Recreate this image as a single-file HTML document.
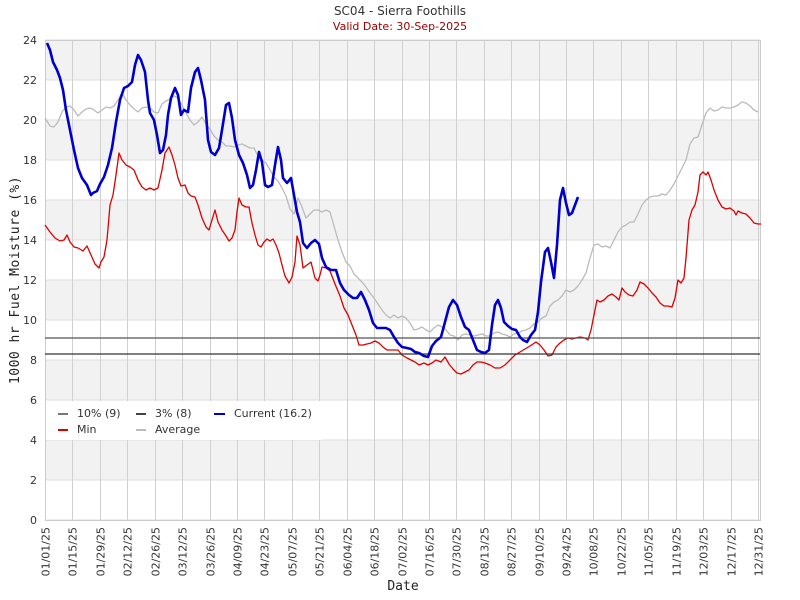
<!DOCTYPE html>
<html><head><meta charset="utf-8"><style>
html,body{margin:0;padding:0;background:#fff;}
svg{display:block;font-family:"DejaVu Sans","Liberation Sans",sans-serif;}
</style></head><body>
<svg id="c" width="800" height="600" viewBox="0 0 800 600" xmlns="http://www.w3.org/2000/svg">
<rect width="800" height="600" fill="#fff"/>
<g id="bands"></g>
<g id="grid"></g>
<g id="lines" fill="none" stroke-linejoin="round"></g>
<text x="400" y="15" text-anchor="middle" font-size="12" fill="#333">SC04 - Sierra Foothills</text>
<text x="400" y="30" text-anchor="middle" font-size="11" fill="#a00000">Valid Date: 30-Sep-2025</text>
<text transform="translate(19,280) rotate(-90)" text-anchor="middle" font-size="13" fill="#222" font-family="'DejaVu Sans Mono','Liberation Mono',monospace" letter-spacing="0.5">1000 hr Fuel Moisture (%)</text>
<text x="403" y="590" text-anchor="middle" font-size="13" fill="#222" font-family="'DejaVu Sans Mono','Liberation Mono',monospace">Date</text>
<g id="legend" font-size="11" fill="#333">
<rect x="46" y="401" width="276" height="39" fill="#fff"/>
<line x1="58" y1="414" x2="68" y2="414" stroke="#777" stroke-width="2"/><text x="77" y="417">10% (9)</text>
<line x1="136" y1="414" x2="146" y2="414" stroke="#444" stroke-width="2"/><text x="155" y="417">3% (8)</text>
<line x1="214" y1="414" x2="225" y2="414" stroke="#0000cc" stroke-width="2"/><text x="234" y="417">Current (16.2)</text>
<line x1="58" y1="430" x2="68" y2="430" stroke="#dd0000" stroke-width="2"/><text x="77" y="433">Min</text>
<line x1="136" y1="430" x2="146" y2="430" stroke="#bbb" stroke-width="2"/><text x="155" y="433">Average</text>
</g>
</svg>
<script>
var NS="http://www.w3.org/2000/svg";
function el(t,a,p,txt){var e=document.createElementNS(NS,t);for(var k in a)e.setAttribute(k,a[k]);if(txt)e.textContent=txt;p.appendChild(e);return e;}
var L=45,R=760,T=40,B=520;
var bands=document.getElementById('bands'),grid=document.getElementById('grid'),lines=document.getElementById('lines');
function Y(v){return B-v*20;}
[2,6,10,14,18,22].forEach(function(v){el('rect',{x:L,y:Y(v+2),width:R-L,height:40,fill:'#f2f2f2'},bands);});
for(var v=0;v<=24;v+=2){el('line',{x1:L,x2:R,y1:Y(v),y2:Y(v),stroke:'#ddd','stroke-width':1},grid);
el('text',{x:37,y:Y(v)+4,'text-anchor':'end','font-size':11,fill:'#333'},grid,String(v));}
var labs=["01/01/25","01/15/25","01/29/25","02/12/25","02/26/25","03/12/25","03/26/25","04/09/25","04/23/25","05/07/25","05/21/25","06/04/25","06/18/25","06/02/25","07/16/25","07/30/25","08/13/25","08/27/25","09/10/25","09/24/25","10/08/25","10/22/25","11/05/25","11/19/25","12/03/25","12/17/25","12/31/25"];
labs[13]="07/02/25";
for(var i=0;i<27;i++){var x=L+i*(R-L-2)/26;x=Math.round(x)+0.5;
el('line',{x1:x,x2:x,y1:T,y2:B,stroke:'#d0d0d0','stroke-width':1},grid);
el('text',{transform:'translate('+(x+4)+',527) rotate(-90)','text-anchor':'end','font-size':11,fill:'#333'},grid,labs[i]);}
el('rect',{x:L+0.5,y:T+0.5,width:R-L,height:B-T,fill:'none',stroke:'#ccc'},grid);
function path(pts,col,w){var d="M"+pts.map(function(p){return p[0]+","+p[1]}).join("L");el('path',{d:d,stroke:col,'stroke-width':w},lines);}
var avg=[[45,118],[50,126],[54,127],[58,122],[62,112],[66,107],[70,106],[74,110],[78,116],[82,112],[86,109],[90,108],[94,110],[98,113],[102,110],[106,107],[110,108],[114,106],[118,100],[122,93],[126,100],[130,105],[134,109],[138,112],[142,108],[146,107],[150,108],[154,112],[158,113],[162,104],[166,101],[170,99],[174,96],[178,98],[182,105],[186,113],[190,120],[194,125],[198,122],[202,117],[206,124],[210,129],[214,136],[218,140],[222,142],[226,146],[230,146],[234,147],[238,145],[242,144],[246,146],[250,148],[254,148],[258,156],[262,160],[266,163],[270,170],[274,177],[278,181],[282,188],[286,196],[290,209],[294,214],[298,198],[302,207],[306,218],[310,214],[314,210],[318,210],[322,212],[326,210],[330,212],[334,226],[338,240],[342,252],[346,262],[350,266],[354,274],[358,278],[362,282],[366,287],[370,293],[374,298],[378,304],[382,310],[386,315],[390,318],[394,315],[398,318],[402,316],[406,318],[410,323],[414,330],[418,329],[422,327],[426,330],[430,332],[434,328],[438,325],[442,327],[446,330],[450,335],[454,336],[458,340],[462,335],[466,334],[470,335],[474,336],[478,335],[482,334],[486,336],[490,336],[494,333],[498,332],[502,334],[506,335],[510,337],[514,334],[518,333],[522,331],[526,330],[530,328],[534,324],[538,322],[542,318],[546,316],[550,306],[554,302],[558,300],[562,296],[566,290],[570,292],[574,290],[578,286],[582,280],[586,273],[590,258],[594,245],[598,244],[602,247],[606,246],[610,248],[614,240],[618,232],[622,227],[626,225],[630,222],[634,222],[638,214],[642,205],[646,200],[650,197],[654,196],[658,196],[662,194],[666,195],[670,190],[674,184],[678,176],[682,168],[686,160],[690,144],[694,138],[698,137],[702,125],[706,113],[710,108],[714,111],[718,110],[722,107],[726,108],[730,108],[734,107],[738,105],[742,102],[746,103],[750,106],[754,110],[758,112]];
var mn=[[45,225],[50,232],[55,238],[60,241],[64,240],[67,235],[70,242],[74,247],[78,248],[83,251],[87,246],[91,255],[95,264],[99,268],[101,262],[104,257],[107,240],[110,205],[113,195],[116,175],[119,153],[122,160],[126,165],[130,167],[134,170],[138,180],[142,187],[146,190],[150,188],[154,190],[158,188],[162,170],[165,153],[169,147],[172,155],[175,165],[178,178],[181,186],[185,185],[188,193],[191,196],[195,197],[198,205],[202,218],[206,227],[209,230],[212,220],[215,210],[218,222],[222,230],[226,236],[229,241],[232,238],[235,230],[237,212],[239,198],[242,205],[246,207],[249,207],[252,223],[255,235],[258,245],[261,247],[264,242],[267,239],[270,241],[273,239],[276,245],[279,253],[282,265],[285,276],[289,283],[292,277],[295,262],[297,236],[300,245],[303,268],[307,265],[311,262],[315,278],[318,281],[320,275],[322,267],[326,268],[330,271],[335,284],[340,296],[344,308],[348,315],[352,325],[356,335],[359,345],[363,345],[367,344],[371,343],[375,341],[379,343],[383,347],[387,350],[393,350],[398,350],[402,355],[407,358],[411,360],[415,362],[419,365],[424,363],[428,365],[432,363],[436,360],[441,362],[445,357],[449,364],[453,369],[457,373],[461,374],[465,372],[469,370],[473,365],[477,362],[481,362],[485,363],[490,365],[495,368],[500,368],[505,365],[510,360],[515,355],[520,352],[525,349],[530,346],[536,342],[540,345],[544,350],[548,356],[552,355],[556,347],[560,343],[564,340],[568,338],[572,339],[576,338],[580,337],[585,338],[588,340],[591,330],[594,315],[597,300],[600,302],[604,300],[608,296],[612,294],[616,297],[619,300],[622,288],[625,292],[629,295],[633,296],[637,290],[640,282],[644,284],[648,288],[652,293],[656,297],[660,303],[664,306],[668,306],[672,307],[675,298],[678,280],[681,283],[684,278],[686,258],[689,220],[692,210],[695,205],[698,192],[700,175],[703,172],[706,175],[708,172],[711,180],[714,190],[718,200],[722,207],[726,209],[730,208],[734,211],[736,215],[738,211],[742,213],[746,214],[750,218],[754,223],[758,224],[761,224]];
var cur=[[47,43],[50,50],[53,62],[57,70],[60,78],[63,90],[66,110],[70,130],[74,150],[78,168],[82,178],[87,185],[91,195],[93,193],[97,191],[100,184],[104,177],[108,165],[112,148],[116,122],[120,100],[124,88],[128,86],[132,82],[135,65],[138,55],[141,60],[145,72],[148,100],[150,113],[154,120],[157,135],[160,153],[163,150],[166,135],[168,115],[171,98],[175,88],[178,95],[181,115],[184,110],[188,112],[191,88],[195,72],[198,68],[201,80],[205,100],[208,140],[211,152],[215,155],[219,148],[222,130],[226,105],[229,103],[232,118],[235,140],[239,155],[243,163],[247,175],[250,188],[253,185],[256,170],[259,152],[262,162],[265,185],[268,187],[272,185],[275,165],[278,147],[281,160],[283,178],[287,183],[291,178],[294,195],[297,212],[300,222],[303,243],[307,248],[311,243],[315,240],[319,244],[322,258],[326,267],[331,270],[336,270],[340,283],[344,290],[349,295],[353,298],[357,298],[361,292],[365,300],[369,310],[373,323],[377,328],[381,328],[386,328],[390,330],[394,337],[398,343],[402,347],[407,348],[411,349],[415,352],[419,353],[424,356],[428,357],[432,346],[436,341],[441,337],[445,322],[449,307],[453,300],[457,305],[461,317],[465,327],[469,330],[473,340],[477,350],[481,352],[485,353],[489,350],[492,325],[495,305],[498,300],[501,308],[504,322],[508,326],[512,329],[516,330],[520,337],[523,340],[527,342],[531,335],[535,330],[538,312],[541,282],[545,252],[548,248],[551,262],[554,278],[557,245],[560,200],[563,188],[566,203],[569,215],[572,213],[575,205],[578,197]];
path(avg,'#bbbbbb',1.3);
path(mn,'#dd0000',1.3);
el('line',{x1:L,x2:R,y1:338,y2:338,stroke:'#555','stroke-width':1.3},lines);
el('line',{x1:L,x2:R,y1:354,y2:354,stroke:'#333','stroke-width':1.3},lines);
path(cur,'#0000cc',2.6);
var svg=document.getElementById('c');svg.appendChild(document.getElementById('legend'));
</script>
</body></html>
